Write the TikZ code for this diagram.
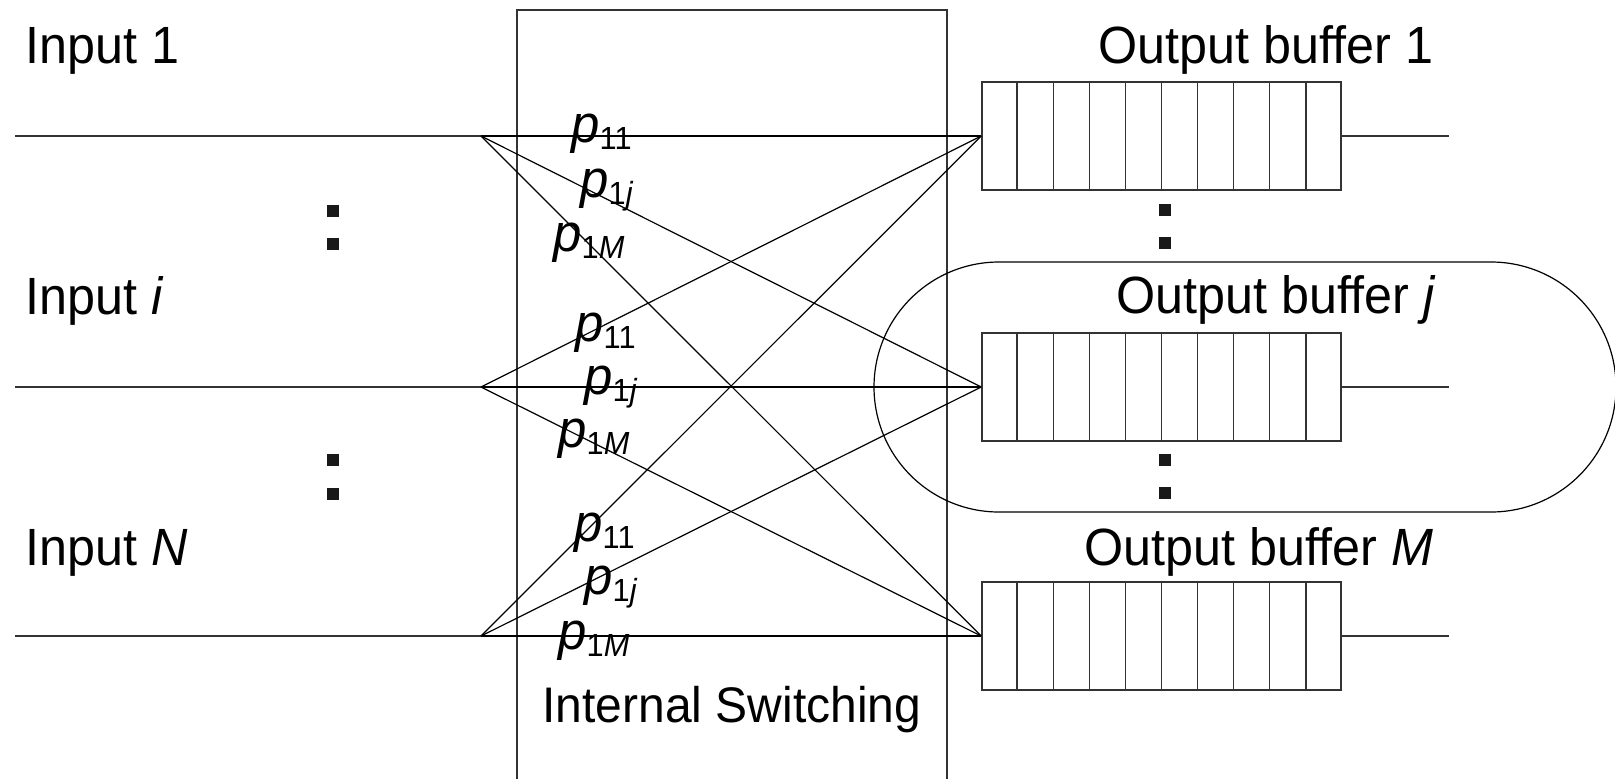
\documentclass[tikz,border=0pt]{standalone}
\usepackage{fontspec}
\setmainfont{Liberation Sans}[FakeStretch=0.96, Ligatures=NoCommon]
\usetikzlibrary{calc}
\newcommand\plab[1]{\textit{p}\raisebox{-3.5pt}{\fontsize{16}{16}\selectfont #1}}
\tikzset{
  lab/.style={inner sep=0pt, anchor=base west, font=\fontsize{26.2}{30}\selectfont},
  plabel/.style={inner sep=0pt, anchor=base west, font=\fontsize{26.5}{30}\selectfont},
  frame/.style={draw=black!80, line width=0.8pt},
  wire/.style={draw=black, line width=0.6pt},
  buffer/.style={frame, rectangle, inner sep=0pt, minimum width=179.5pt, minimum height=54pt},
  dot/.style={fill=black!90, draw=none, rectangle, inner sep=0pt, minimum size=6pt}
}
\begin{document}
\begin{tikzpicture}[x=0.5pt, y=-0.5pt]
\useasboundingbox (0,0) rectangle (1615,778);
\clip (0,0) rectangle (1615,778);

% switching fabric frame
\draw[frame] (517,10) rectangle (947,800);
\node[lab, font=\fontsize{25}{28}\selectfont] (sw) at (542,722) {Internal Switching};

% grouped output buffer outline
\draw[wire] (874,262) [rounded corners=62.5pt] rectangle (1616,512);

% input ports and their fan-out points
\coordinate (s1) at (15,136);
\coordinate (si) at (15,387);
\coordinate (sN) at (15,636);
\coordinate (f1) at (481,136);
\coordinate (fi) at (481,387);
\coordinate (fN) at (481,636);

% output buffers
\node[buffer] (b1) at (1161.5,136) {};
\node[buffer] (bj) at (1161.5,387) {};
\node[buffer] (bM) at (1161.5,636) {};
\foreach \b in {b1,bj,bM}{
  \foreach \k in {1,...,9}{
    \draw[frame] ($(\b.north west)!\k/10!(\b.north east)$) -- ($(\b.south west)!\k/10!(\b.south east)$);
  }
}
\coordinate (o1) at (1449,136);
\coordinate (oj) at (1449,387);
\coordinate (oM) at (1449,636);
\draw[frame] (b1.east) -- (o1);
\draw[frame] (bj.east) -- (oj);
\draw[frame] (bM.east) -- (oM);

% input lines
\draw[frame] (s1) -- (f1);
\draw[frame] (si) -- (fi);
\draw[frame] (sN) -- (fN);

% routing from every input to every output buffer
\foreach \f in {f1,fi,fN}{
  \foreach \b in {b1,bj,bM}{
    \draw[wire] (\f) -- (\b.west);
  }
}

% labels
\node[lab] (in1) at (25,63) {Input 1};
\node[lab] (ini) at (25,314) {Input \textit{i}};
\node[lab] (inN) at (25,565) {Input \textit{N}};
\node[lab] (ob1) at (1098,63) {Output buffer 1};
\node[lab] (obj) at (1116,313) {Output buffer \textit{j}};
\node[lab] (obM) at (1084,565) {Output buffer \textit{M}};

% routing probabilities
\node[plabel] (pa1) at (571,142) {\plab{11}};
\node[plabel] (pa2) at (580,197) {\plab{1\textit{j}}};
\node[plabel] (pa3) at (553,251) {\plab{1\textit{M}}};
\node[plabel] (pb1) at (575,341) {\plab{11}};
\node[plabel] (pb2) at (584,394) {\plab{1\textit{j}}};
\node[plabel] (pb3) at (558,447) {\plab{1\textit{M}}};
\node[plabel] (pc1) at (574,541) {\plab{11}};
\node[plabel] (pc2) at (584,594) {\plab{1\textit{j}}};
\node[plabel] (pc3) at (558,649) {\plab{1\textit{M}}};

% continuation dots
\node[dot] (d1) at (333,211) {};
\node[dot] (d2) at (333,244) {};
\node[dot] (d3) at (333,460) {};
\node[dot] (d4) at (333,494) {};
\node[dot] (d5) at (1165,210) {};
\node[dot] (d6) at (1165,243) {};
\node[dot] (d7) at (1165,460) {};
\node[dot] (d8) at (1165,493) {};
\end{tikzpicture}
\end{document}
